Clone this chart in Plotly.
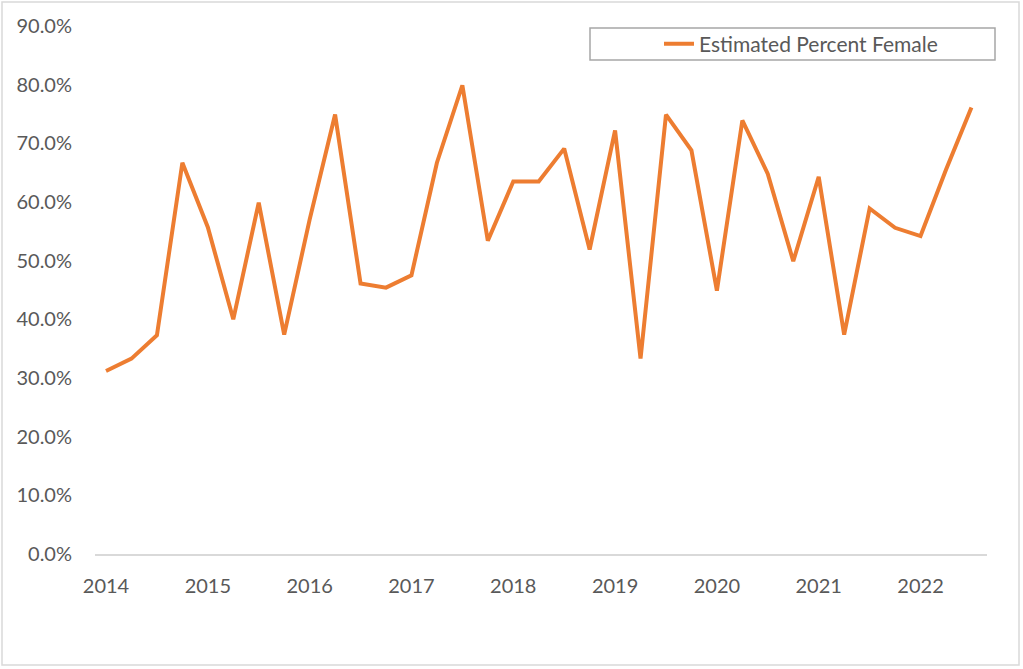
import plotly.graph_objects as go

# Quarterly periods 2014 Q1 .. 2022 Q3
years = [2014 + i // 4 for i in range(35)]
quarters = [i % 4 for i in range(35)]
x_vals = [y + q / 4 for y, q in zip(years, quarters)]

pct_female = [31.2, 33.3, 37.3, 66.7, 55.7, 40.0, 59.9, 37.4, 57.0, 74.9,
              46.1, 45.4, 47.5, 66.7, 79.9, 53.4, 63.5, 63.5, 69.1, 51.9,
              72.2, 33.3, 74.9, 68.8, 44.9, 73.9, 64.8, 49.9, 64.3, 37.4,
              58.9, 55.6, 54.2, 65.5, 76.1]
pct_female = [v / 100 for v in pct_female]

tick_years = [2014, 2015, 2016, 2017, 2018, 2019, 2020, 2021, 2022]
y_ticks = [i / 10 for i in range(10)]

FONT = "Lato, 'Open Sans', sans-serif"
GREY = "#595959"

fig = go.Figure()
fig.add_trace(go.Scatter(
    x=x_vals, y=pct_female, mode="lines",
    name="Estimated Percent Female",
    line=dict(color="#ED7D31", width=4),
))

L, R, T, B = 95, 36, 26, 115
W, H = 1023, 669
pw, ph = W - L - R, H - T - B

def px2paper_x(px):
    return (px - L) / pw

def px2paper_y(py):
    return (H - B - py) / ph

fig.update_layout(
    width=W, height=H,
    margin=dict(l=L, r=R, t=T, b=B),
    paper_bgcolor="white", plot_bgcolor="white",
    font=dict(family=FONT, size=20, color=GREY),
    showlegend=True,
    legend=dict(
        x=px2paper_x(659), y=px2paper_y(44), xanchor="left", yanchor="middle",
        bgcolor="rgba(0,0,0,0)", borderwidth=0,
        font=dict(family=FONT, size=21, color=GREY),
    ),
    xaxis=dict(
        range=[2014 - 11 / 101.7, 2014 + (986 - 106) / 101.7],
        tickvals=tick_years, ticktext=[str(y) for y in tick_years],
        showgrid=False, zeroline=False,
        showline=True, linecolor="#d9d9d9", linewidth=1.5,
        ticks="", ticklabelstandoff=13,
        tickfont=dict(family=FONT, size=20, color=GREY),
    ),
    yaxis=dict(
        range=[0, 0.9], tickvals=y_ticks, tickformat=".1%",
        showgrid=False, zeroline=False, showline=False,
        ticks="", ticklabelstandoff=22,
        tickfont=dict(family=FONT, size=20, color=GREY),
    ),
    shapes=[
        dict(type="rect", xref="paper", yref="paper",
             x0=px2paper_x(590), x1=px2paper_x(995),
             y0=px2paper_y(60), y1=px2paper_y(28),
             line=dict(color="#a6a6a6", width=1.5), fillcolor="rgba(0,0,0,0)",
             layer="below"),
        dict(type="rect", xref="paper", yref="paper",
             x0=px2paper_x(2), x1=px2paper_x(1019),
             y0=px2paper_y(665), y1=px2paper_y(2),
             line=dict(color="#d9d9d9", width=1.5), fillcolor="rgba(0,0,0,0)",
             layer="below"),
    ],
)

fig.write_html("out.html", config={"displayModeBar": False},
               post_script="document.body.style.margin='0';")
